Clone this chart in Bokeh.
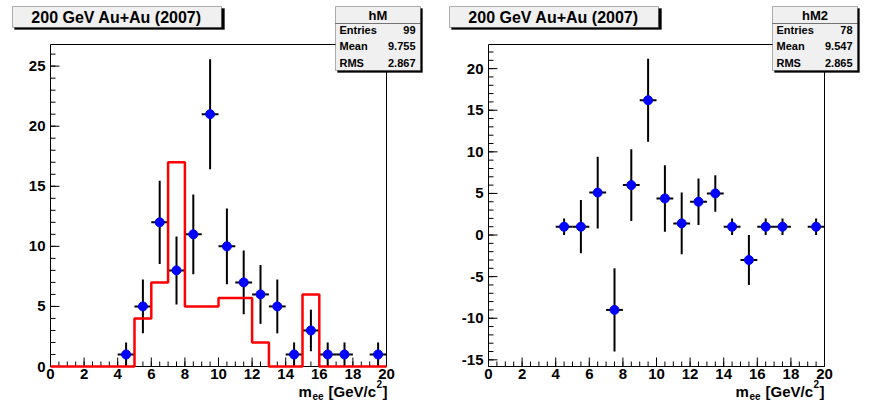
from bokeh.plotting import figure
from bokeh.layouts import row
from bokeh.models import Label, BoxAnnotation
from bokeh.embed import file_html
from bokeh.resources import INLINE

centers = [4.5, 5.5, 6.5, 7.5, 8.5, 9.5, 10.5, 11.5, 12.5, 13.5, 14.5, 15.5, 16.5, 17.5, 19.5]
hM_vals = [1, 5, 12, 8, 11, 21, 10, 7, 6, 5, 1, 3, 1, 1, 1]
hM_errs = [1, 2.24, 3.46, 2.83, 3.32, 4.58, 3.16, 2.65, 2.45, 2.24, 1, 1.73, 1, 1, 1]
red_edges = [0, 5, 6, 7, 8, 10, 12, 13, 15, 16, 20]
red_vals = [0, 4, 7, 17, 5, 5.7, 2, 0, 6, 0]
hM2_vals = [1, 1, 5.1, -9, 6, 16.2, 4.4, 1.4, 4, 5, 1, -3, 1, 1, 1]
hM2_errs = [1, 3.2, 4.3, 5, 4.3, 5, 4, 3.7, 2.8, 2.2, 1, 3, 1, 1, 1]
x_ticks = [0, 2, 4, 6, 8, 10, 12, 14, 16, 18, 20]
y_ticks1 = [0, 5, 10, 15, 20, 25]
y_ticks2 = [-15, -10, -5, 0, 5, 10, 15, 20]
title_text = "200 GeV Au+Au (2007)"
stats1 = ("hM", "99", "9.755", "2.867")
stats2 = ("hM2", "78", "9.547", "2.865")

FONT = "Liberation Sans"
H = 403
FW, FH = 336, 322      # inner frame size in px
TOP, BOT = 44, 37


def canvas_box(p, l, r, t, b, color, line="black"):
    p.add_layout(BoxAnnotation(left=l, right=r, top=t, bottom=b, left_units="canvas",
                               right_units="canvas", top_units="canvas", bottom_units="canvas",
                               fill_color=color, fill_alpha=1, line_color=line, line_width=1))


def lab(p, x, y, t, size, align="left", base="alphabetic"):
    p.add_layout(Label(x=x, y=y, x_units="canvas", y_units="canvas", text=t,
                       text_font=FONT, text_font_style="bold", text_font_size=size,
                       text_align=align, text_baseline=base, text_color="black"))


def make(W, bl, ymin, ymax, yticks, vals, errs, stats):
    br = W - bl - FW
    sx = 20 / FW
    sy = (ymax - ymin) / FH
    p = figure(width=W, height=H, x_range=(-bl * sx, 20 + br * sx),
               y_range=(ymin - BOT * sy, ymax + TOP * sy), output_backend="svg",
               toolbar_location=None, min_border=0, x_axis_type=None, y_axis_type=None)
    p.grid.visible = False
    p.outline_line_color = None
    p.background_fill_color = "white"
    p.border_fill_color = "white"

    p.quad(left=[0], right=[20], bottom=[ymin], top=[ymax], fill_color=None,
           line_color="black", line_width=1)
    minors = [i * 0.5 for i in range(41)]
    p.segment(x0=minors, x1=minors, y0=[ymin] * 41, y1=[ymin + 5 * sy] * 41,
              line_color="black", line_width=1)
    p.segment(x0=x_ticks, x1=x_ticks, y0=[ymin] * len(x_ticks),
              y1=[ymin + 9 * sy] * len(x_ticks), line_color="black", line_width=1)
    p.text(x=x_ticks, y=[ymin] * len(x_ticks), text=[str(t) for t in x_ticks],
           text_font={"value": FONT}, text_font_style="bold", text_font_size="15px",
           text_align="center", text_baseline="top", y_offset=2, text_color="black")
    yminors = [v for v in range(int(ymin) - 1, int(ymax) + 1) if ymin <= v <= ymax]
    p.segment(x0=[0] * len(yminors), x1=[5 * sx] * len(yminors), y0=yminors, y1=yminors,
              line_color="black", line_width=1)
    p.segment(x0=[0] * len(yticks), x1=[9 * sx] * len(yticks), y0=yticks, y1=yticks,
              line_color="black", line_width=1)
    p.text(x=[0] * len(yticks), y=yticks, text=[str(t) for t in yticks],
           text_font={"value": FONT}, text_font_style="bold", text_font_size="15px",
           text_align="right", text_baseline="middle", x_offset=-5, text_color="black")

    xs = centers
    p.segment(x0=[x - 0.5 for x in xs], x1=[x + 0.5 for x in xs], y0=vals, y1=vals,
              line_color="black", line_width=2)
    p.segment(x0=xs, x1=xs, y0=[v - e for v, e in zip(vals, errs)],
              y1=[v + e for v, e in zip(vals, errs)], line_color="black", line_width=2)

    canvas_box(p, 14, 224, 8, 29, "black")
    canvas_box(p, 12, 221, 6, 27, "#f0f0f0")
    lab(p, 116, 17, title_text, "16px", "center", "middle")
    L, R = 335, 420
    canvas_box(p, L + 2, R + 2, 8, 72, "black")
    canvas_box(p, L, R, 6, 70, "#f0f0f0")
    canvas_box(p, L, R, 23, 23, "black")
    lab(p, (L + R) / 2, 15, stats[0], "13px", "center", "middle")
    for i, (k, v) in enumerate(zip(["Entries", "Mean", "RMS"], stats[1:])):
        yy = 29.5 + i * 16.3
        lab(p, L + 4, yy, k, "11px", "left", "middle")
        lab(p, R - 5, yy, v, "11px", "right", "middle")
    base = 391
    lab(p, 298, base, "m", "15px")
    lab(p, 312, base + 4, "ee", "10px")
    lab(p, 328, base, "[GeV/c", "15px")
    lab(p, 376, base - 8, "2", "10px")
    lab(p, 382, base, "]", "15px")
    return p


p1 = make(437, 50, 0, 26.8, y_ticks1, hM_vals, hM_errs, stats1)
p1.step(red_edges, red_vals + [0], mode="after", line_color="#ff0000", line_width=2.5)
p1.scatter(centers, hM_vals, size=9, color="#0000ff")
p2 = make(438, 51, -15.8, 22.9, y_ticks2, hM2_vals, hM2_errs, stats2)
p2.scatter(centers, hM2_vals, size=9, color="#0000ff")

layout = row(p1, p2)
open("out.html", "w").write(file_html(layout, INLINE))
